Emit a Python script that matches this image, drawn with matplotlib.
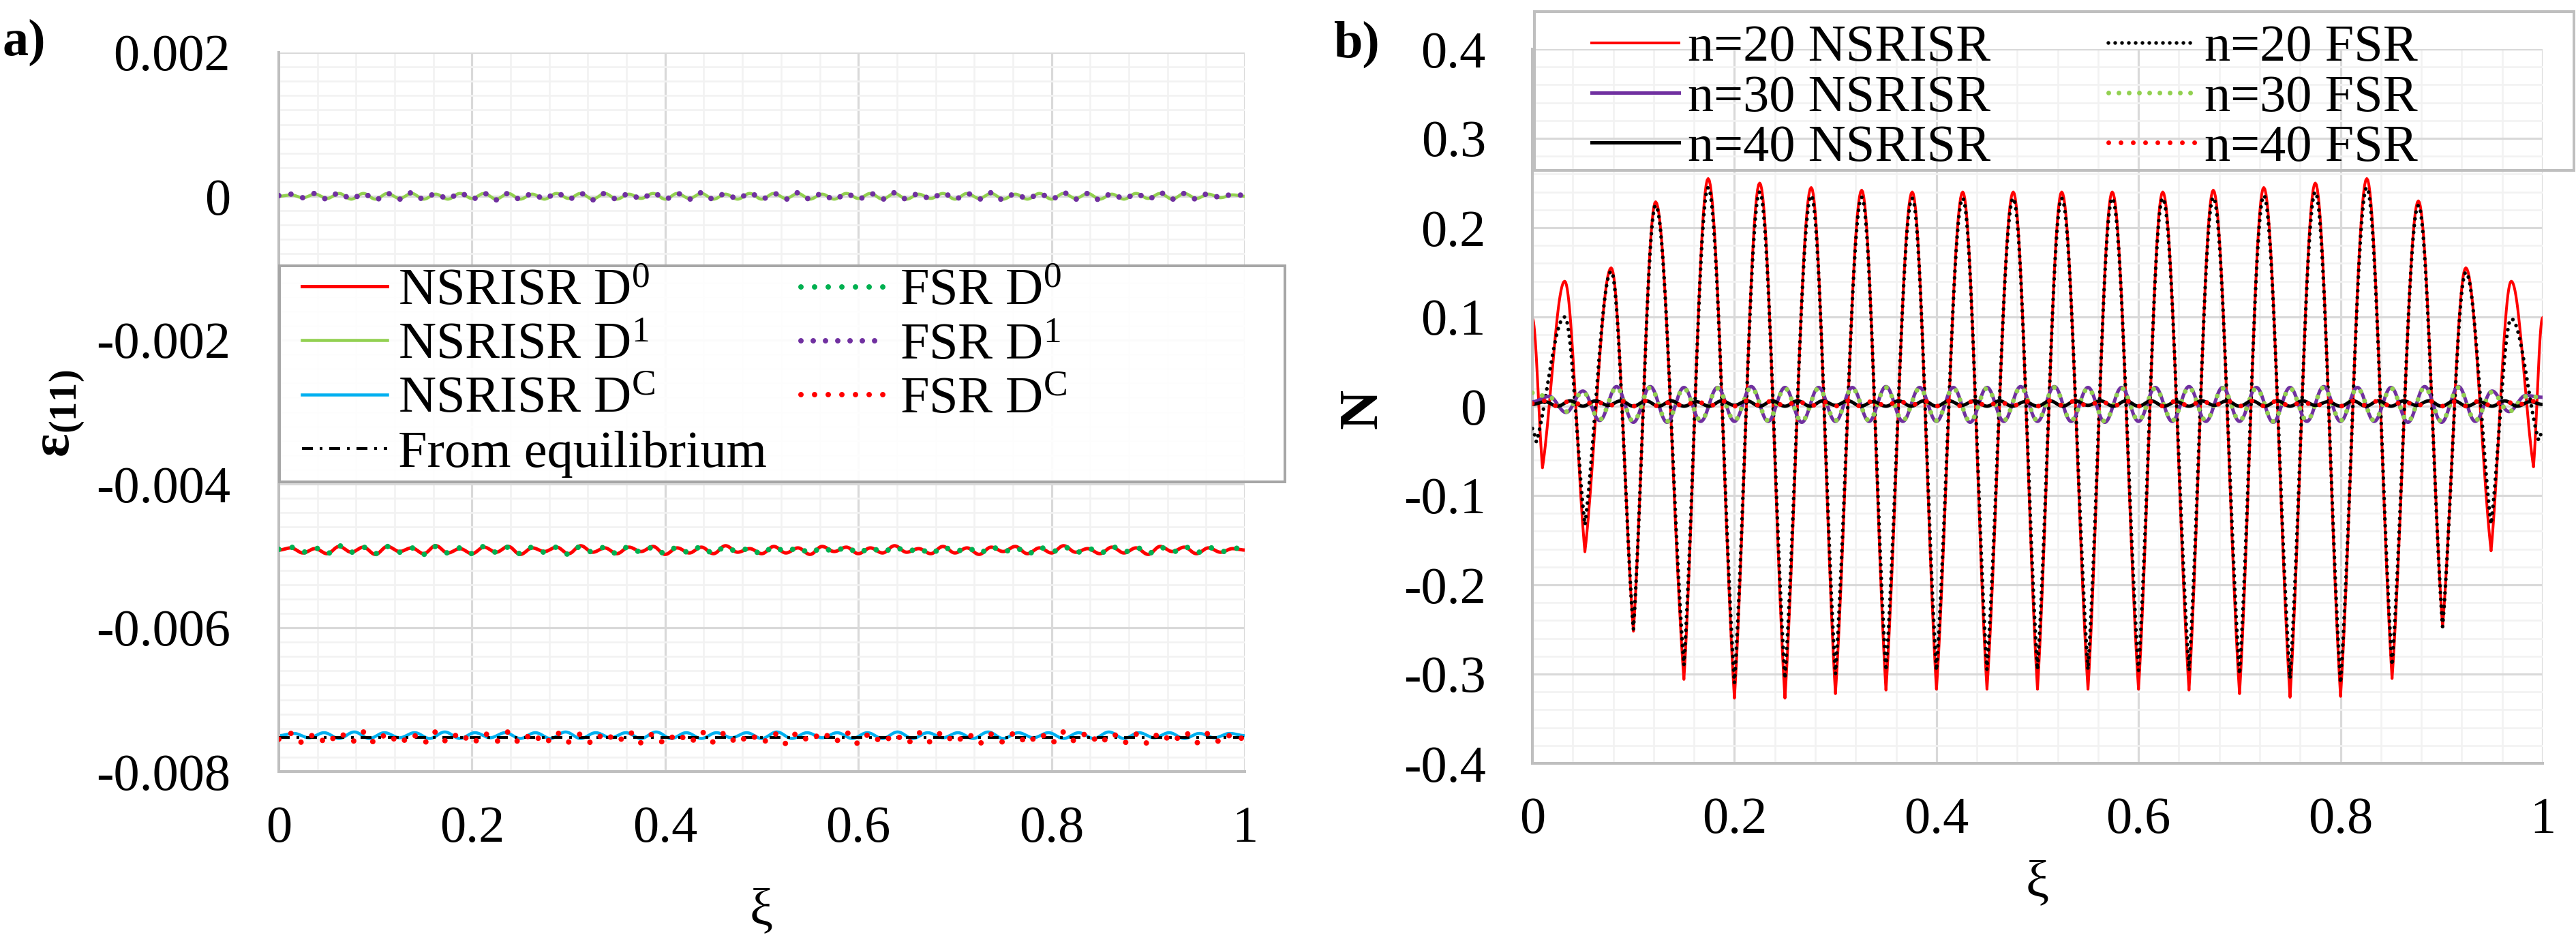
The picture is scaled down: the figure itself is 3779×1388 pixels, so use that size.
import numpy as np
import matplotlib
matplotlib.use("Agg")
import matplotlib.pyplot as plt
from matplotlib.ticker import MultipleLocator, FuncFormatter
from matplotlib.patches import Rectangle

plt.rcParams['font.family'] = ['Liberation Serif', 'DejaVu Serif']
plt.rcParams['mathtext.fontset'] = 'custom'
plt.rcParams['mathtext.rm'] = 'Liberation Serif'
plt.rcParams['mathtext.it'] = 'Liberation Serif:italic'
plt.rcParams['mathtext.bf'] = 'Liberation Serif:bold'
plt.rcParams['axes.unicode_minus'] = False

# ---------------- data: panel a) (strain, extrema, units 1e-5) ----------------
D0_LEVEL = -0.00492
D1_LEVEL = 0.0
DC_LEVEL = -0.00750
DC_FSR_LEVEL = -0.00753

D1_NSRISR_DEV = [0, 2, -2, 3, -3, 4, -4, 4, -4, 4,
                 -3, 4, -4, 3, -4, 4, -3, 4, -4, 4,
                 -4, 3, -4, 4, -3, 4, -4, 4, -4, 3,
                 -3, 4, -4, 4, -3, 4, -4, 3, -4, 4,
                 -4, 4, -3, 4, -4, 3, -4, 4, -3, 4,
                 -4, 4, -4, 3, -3, 4, -4, 4, -3, 4,
                 -4, 3, -4, 4, -4, 4, -3, 4, -4, 3,
                 -4, 4, -3, 4, -4, 4, -3, 3, -2, 2,
                 0]
D1_FSR_DEV = [1, 3, -2, 4, -4, 5, -4, 4, -5, 4,
              -4, 5, -4, 4, -4, 5, -4, 4, -5, 4,
              -4, 4, -4, 5, -4, 4, -5, 4, -4, 4,
              -4, 5, -4, 4, -4, 5, -4, 4, -4, 5,
              -4, 4, -4, 5, -4, 4, -5, 4, -4, 4,
              -4, 5, -4, 4, -4, 5, -4, 4, -4, 5,
              -5, 4, -4, 4, -4, 5, -4, 4, -5, 4,
              -4, 4, -4, 5, -4, 4, -4, 4, -2, 3,
              1]
D0_NSRISR_DEV = [0, 3, -4, 2, -5, 5, -3, 4, -6, 5,
                 -2, 3, -5, 6, -4, 2, -5, 4, -3, 5,
                 -6, 3, -2, 4, -5, 6, -3, 3, -5, 4,
                 -2, 5, -6, 3, -4, 4, -5, 6, -3, 2,
                 -5, 5, -4, 3, -6, 5, -2, 4, -5, 3,
                 -4, 6, -3, 2, -5, 5, -4, 3, -6, 4,
                 -2, 5, -5, 3, -4, 6, -3, 2, -5, 4,
                 -4, 3, -6, 5, -2, 4, -5, 3, -3, 2,
                 0]
D0_FSR_DEV = [1, 4, -3, 3, -5, 6, -3, 4, -5, 5,
              -3, 3, -6, 5, -4, 3, -5, 5, -3, 4,
              -5, 4, -3, 4, -6, 5, -3, 4, -5, 5,
              -3, 4, -5, 4, -4, 5, -5, 5, -3, 3,
              -6, 5, -3, 4, -5, 4, -3, 5, -5, 4,
              -4, 5, -3, 3, -6, 5, -3, 4, -5, 5,
              -3, 4, -6, 4, -3, 5, -4, 3, -5, 5,
              -3, 4, -5, 4, -3, 5, -4, 4, -3, 3,
              1]
DC_NSRISR_DEV = [0, 3, -3, 4, -4, 5, -4, 4, -3, 4,
                 -4, 5, -4, 4, -3, 4, -4, 4, -4, 5,
                 -4, 4, -3, 4, -4, 5, -4, 4, -4, 4,
                 -3, 4, -4, 5, -4, 4, -3, 4, -4, 4,
                 -4, 5, -4, 4, -3, 4, -4, 5, -4, 4,
                 -3, 4, -4, 4, -4, 5, -4, 4, -3, 4,
                 -4, 3, -3, 3, 0]
DC_FSR_DEV = [-2, 6, -7, 5, -8, 7, -6, 8, -7, 6,
              -8, 5, -7, 8, -6, 7, -8, 6, -5, 8,
              -7, 6, -8, 7, -6, 5, -8, 7, -6, 8,
              -7, 5, -8, 6, -7, 8, -6, 7, -8, 5,
              -7, 6, -8, 7, -5, 8, -6, 7, -8, 6,
              -7, 5, -8, 7, -6, 8, -7, 6, -8, 5,
              -6, 7, -8, 6, -7, 8, -5, 7, -8, 6,
              -7, 5, -8, 7, -6, 8, -7, 6, -6, 5,
              -2]
EQ_XI = [0.0, 0.1, 0.2, 0.3, 0.4, 0.5, 0.6, 0.7, 0.8, 0.9, 1.0]
EQ_VALUES = [-0.00753, -0.00753, -0.00753, -0.00753, -0.00753, -0.00753,
             -0.00753, -0.00753, -0.00753, -0.00753, -0.00753]

# ---------------- data: panel b) (N, extrema read off the plot) ----------------
N20_XI = [0.000, 0.010, 0.032, 0.052, 0.078, 0.100, 0.122, 0.150, 0.174, 0.200,
          0.225, 0.250, 0.276, 0.300, 0.326, 0.350, 0.376, 0.400, 0.426, 0.450,
          0.476, 0.500, 0.524, 0.550, 0.574, 0.600, 0.624, 0.650, 0.674, 0.700,
          0.724, 0.750, 0.775, 0.800, 0.826, 0.851, 0.877, 0.901, 0.924, 0.949,
          0.969, 0.991, 1.000]
N20_NSRISR = [0.098, -0.069, 0.140, -0.163, 0.155, -0.252, 0.229, -0.306, 0.255, -0.327,
              0.250, -0.327, 0.245, -0.322, 0.242, -0.318, 0.240, -0.317, 0.240, -0.317,
              0.240, -0.317, 0.240, -0.317, 0.240, -0.317, 0.240, -0.318, 0.242, -0.322,
              0.245, -0.326, 0.250, -0.325, 0.255, -0.305, 0.230, -0.247, 0.155, -0.162,
              0.140, -0.068, 0.099]
N20_FSR_XI = [0.000, 0.004, 0.032, 0.052, 0.078, 0.100, 0.122, 0.150, 0.174, 0.200,
              0.225, 0.250, 0.276, 0.300, 0.326, 0.350, 0.376, 0.400, 0.426, 0.450,
              0.476, 0.500, 0.524, 0.550, 0.574, 0.600, 0.624, 0.650, 0.674, 0.700,
              0.724, 0.750, 0.775, 0.800, 0.826, 0.851, 0.877, 0.901, 0.924, 0.949,
              0.969, 0.996, 1.000]
N20_FSR = [-0.025, -0.040, 0.100, -0.133, 0.151, -0.250, 0.225, -0.290, 0.245, -0.310,
           0.240, -0.305, 0.236, -0.300, 0.234, -0.296, 0.233, -0.296, 0.233, -0.295,
           0.233, -0.295, 0.233, -0.295, 0.233, -0.296, 0.233, -0.296, 0.234, -0.300,
           0.236, -0.305, 0.240, -0.310, 0.245, -0.290, 0.225, -0.247, 0.150, -0.132,
           0.098, -0.038, -0.028]
N30_NSRISR = [0.005, 0.011, -0.007, 0.017, -0.016, 0.022, -0.018, 0.022, -0.018, 0.021,
              -0.017, 0.021, -0.017, 0.022, -0.017, 0.021, -0.018, 0.021, -0.017, 0.021,
              -0.017, 0.022, -0.017, 0.021, -0.017, 0.021, -0.018, 0.021, -0.017, 0.022,
              -0.017, 0.022, -0.017, 0.021, -0.018, 0.021, -0.017, 0.021, -0.017, 0.022,
              -0.017, 0.021, -0.017, 0.021, -0.018, 0.021, -0.017, 0.022, -0.017, 0.021,
              -0.017, 0.021, -0.018, 0.022, -0.018, 0.022, -0.017, 0.017, -0.006, 0.012,
              0.010]
N30_FSR = [0.015, 0.010, -0.006, 0.016, -0.015, 0.021, -0.017, 0.021, -0.017, 0.020,
           -0.016, 0.020, -0.016, 0.021, -0.016, 0.020, -0.017, 0.020, -0.016, 0.020,
           -0.016, 0.021, -0.016, 0.020, -0.016, 0.020, -0.017, 0.020, -0.016, 0.021,
           -0.016, 0.021, -0.016, 0.020, -0.017, 0.020, -0.016, 0.020, -0.016, 0.021,
           -0.016, 0.020, -0.016, 0.020, -0.017, 0.020, -0.016, 0.021, -0.016, 0.020,
           -0.016, 0.020, -0.017, 0.021, -0.017, 0.021, -0.016, 0.016, -0.006, 0.011,
           0.010]
N40_NSRISR = [0.002, 0.005, 0.000, 0.006, 0.000, 0.006, 0.001, 0.006, 0.000, 0.006,
              0.000, 0.006, 0.000, 0.005, 0.000, 0.006, 0.001, 0.006, 0.000, 0.006,
              0.000, 0.006, 0.000, 0.006, 0.001, 0.006, 0.000, 0.005, 0.000, 0.006,
              0.000, 0.006, 0.000, 0.006, 0.001, 0.006, 0.000, 0.006, 0.000, 0.005,
              0.000, 0.006, 0.000, 0.006, 0.001, 0.006, 0.000, 0.006, 0.000, 0.006,
              0.000, 0.005, 0.000, 0.006, 0.001, 0.006, 0.000, 0.006, 0.000, 0.006,
              0.000, 0.006, 0.001, 0.005, 0.000, 0.006, 0.000, 0.006, 0.000, 0.006,
              0.001, 0.006, 0.000, 0.006, 0.000, 0.005, 0.000, 0.006, 0.000, 0.005,
              0.002]
N40_FSR = [0.003, 0.006, 0.000, 0.006, 0.001, 0.006, 0.000, 0.006, 0.000, 0.006,
           0.000, 0.005, 0.000, 0.006, 0.000, 0.006, 0.000, 0.006, 0.001, 0.006,
           0.000, 0.006, 0.000, 0.005, 0.000, 0.006, 0.000, 0.006, 0.000, 0.006,
           0.001, 0.006, 0.000, 0.006, 0.000, 0.006, 0.000, 0.005, 0.000, 0.006,
           0.000, 0.006, 0.001, 0.006, 0.000, 0.006, 0.000, 0.006, 0.000, 0.005,
           0.000, 0.006, 0.000, 0.006, 0.001, 0.006, 0.000, 0.006, 0.000, 0.006,
           0.000, 0.005, 0.000, 0.006, 0.000, 0.006, 0.001, 0.006, 0.000, 0.006,
           0.000, 0.006, 0.000, 0.005, 0.000, 0.006, 0.000, 0.006, 0.001, 0.006,
           0.003]

LEFT_LABELS_NSRISR = ['NSRISR D$^{\\mathrm{0}}$', 'NSRISR D$^{\\mathrm{1}}$',
                      'NSRISR D$^{\\mathrm{C}}$', 'From equilibrium']
LEFT_LABELS_FSR = ['FSR D$^{\\mathrm{0}}$', 'FSR D$^{\\mathrm{1}}$', 'FSR D$^{\\mathrm{C}}$']
RIGHT_LABELS_NSRISR = ['n=20 NSRISR', 'n=30 NSRISR', 'n=40 NSRISR']
RIGHT_LABELS_FSR = ['n=20 FSR', 'n=30 FSR', 'n=40 FSR']

W, H = 3780, 1388
PT = 0.72  # points per pixel at dpi 100
FS = 55


def wave(vals, xi=None, flat=0.0, n=24):
    # smooth path through the extrema
    vals = np.asarray(vals, float)
    if xi is None:
        xi = np.linspace(0, 1, len(vals))
    xi = np.asarray(xi, float)
    m = min(len(xi), len(vals))
    xi, vals = xi[:m], vals[:m]
    t = np.linspace(0, 1, n, endpoint=False)
    g = 0.5 * (1 - np.cos(np.pi * t))
    xs, ys = [], []
    for i in range(m - 1):
        a, b = vals[i], vals[i + 1]
        if a > b:
            f = flat * (1 - np.cos(np.pi * t / 2)) + (1 - flat) * g
        else:
            f = flat * np.sin(np.pi * t / 2) + (1 - flat) * g
        xs.append(xi[i] + (xi[i + 1] - xi[i]) * t)
        ys.append(a + (b - a) * f)
    xs.append([xi[-1]])
    ys.append([vals[-1]])
    return np.concatenate(xs), np.concatenate(ys)


def lev(level, dev):
    return level + np.asarray(dev, float) * 1e-5


def dots(lw_px, pitch_px):
    return dict(lw=lw_px * PT, linestyle=(0, (0.001, pitch_px / lw_px)),
                dash_capstyle='round')


def fmt(v, p):
    return '%g' % (round(v, 6) + 0.0)


def style(ax, ymin, ymax, ymaj, ymin_step, ypad, xpad):
    ax.set_xlim(0, 1)
    ax.set_ylim(ymin, ymax)
    ax.xaxis.set_major_locator(MultipleLocator(0.2))
    ax.xaxis.set_minor_locator(MultipleLocator(0.04))
    ax.yaxis.set_major_locator(MultipleLocator(ymaj))
    ax.yaxis.set_minor_locator(MultipleLocator(ymin_step))
    ax.xaxis.set_major_formatter(FuncFormatter(fmt))
    ax.yaxis.set_major_formatter(FuncFormatter(fmt))
    ax.grid(which='minor', color='#F2F2F2', lw=2.6 * PT)
    ax.grid(which='major', color='#D9D9D9', lw=3.2 * PT)
    ax.set_axisbelow(True)
    for s in ['top', 'right']:
        ax.spines[s].set_visible(False)
    for s in ['left', 'bottom']:
        ax.spines[s].set_color('#BFBFBF')
        ax.spines[s].set_linewidth(4 * PT)
    ax.tick_params(which='both', length=0, labelsize=FS)
    ax.tick_params(axis='y', pad=ypad)
    ax.tick_params(axis='x', pad=xpad)


fig = plt.figure(figsize=(W / 100, H / 100), dpi=100)
axL = fig.add_axes([409 / W, 1 - 1132 / H, 1417 / W, 1055 / H])
axR = fig.add_axes([2248 / W, 1 - 1120 / H, 1482 / W, 1048 / H])

# ---------------- panel a) ----------------
style(axL, -0.008, 0.002, 0.002, 0.0002, 51, 36)

x, y = wave(lev(D0_LEVEL, D0_NSRISR_DEV))
hD0, = axL.plot(x, y, color='#FF0000', lw=5 * PT, zorder=2)
x, y = wave(lev(D1_LEVEL, D1_NSRISR_DEV))
hD1, = axL.plot(x, y, color='#92D050', lw=4.5 * PT, zorder=2)
x, y = wave(lev(DC_LEVEL, DC_NSRISR_DEV))
hDC, = axL.plot(x, y, color='#00B0F0', lw=4.5 * PT, zorder=2)
hEQ, = axL.plot(EQ_XI, EQ_VALUES, color='black', lw=4 * PT,
                linestyle=(0, (4, 2.5, 1, 2.5)), zorder=3)
x, y = wave(lev(D0_LEVEL, D0_FSR_DEV))
fD0, = axL.plot(x, y, color='#00B050', zorder=3, **dots(8, 20))
x, y = wave(lev(D1_LEVEL, D1_FSR_DEV))
fD1, = axL.plot(x, y, color='#7030A0', zorder=3, **dots(8, 18))
x, y = wave(lev(DC_FSR_LEVEL, DC_FSR_DEV))
fDC, = axL.plot(x, y, color='#FF0000', zorder=4, **dots(8, 20))

# ---------------- panel b) ----------------
style(axR, -0.4, 0.4, 0.1, 0.02, 49, 35)

x, y = wave(N20_NSRISR, N20_XI, flat=0.5)
h20, = axR.plot(x, y, color='#FF0000', lw=4 * PT, zorder=2)
x, y = wave(N20_FSR, N20_FSR_XI, flat=0.5)
f20, = axR.plot(x, y, color='black', zorder=3, **dots(5.5, 10))
x, y = wave(N30_NSRISR)
h30, = axR.plot(x, y, color='#7030A0', lw=5 * PT, zorder=4)
x, y = wave(N30_FSR)
f30, = axR.plot(x, y, color='#92D050', zorder=5, **dots(7, 15))
x, y = wave(N40_NSRISR)
h40, = axR.plot(x, y, color='black', lw=5 * PT, zorder=6)
x, y = wave(N40_FSR)
f40, = axR.plot(x, y, color='#FF0000', zorder=7, **dots(7, 18))

# ---------------- legends ----------------
fig.patches.append(Rectangle((410 / W, 1 - 707 / H), 1475 / W, 317 / H,
                             transform=fig.transFigure, facecolor=(1, 1, 1, 0.92),
                             edgecolor='#A6A6A6', lw=4 * PT, zorder=1))
fig.patches.append(Rectangle((2251 / W, 1 - 250 / H), 1525 / W, 233 / H,
                             transform=fig.transFigure, facecolor='none',
                             edgecolor='#BFBFBF', lw=4 * PT, zorder=1))


def column(handles, labels, px, py, hl, pad, sp):
    fig.legend(handles, labels, ncol=1, loc='center left',
               bbox_to_anchor=(px / W, 1 - py / H), bbox_transform=fig.transFigure,
               frameon=False, fontsize=FS, handlelength=hl, handletextpad=pad,
               labelspacing=sp, borderpad=0, borderaxespad=0)


column([hD0, hD1, hDC, hEQ], LEFT_LABELS_NSRISR, 443, 547, 1.64, 0.2, 0.13)
column([fD0, fD1, fDC], LEFT_LABELS_FSR, 1175, 508, 1.6, 0.3, 0.13)
column([h20, h30, h40], RIGHT_LABELS_NSRISR, 2335, 144, 1.68, 0.16, 0.05)
column([f20, f30, f40], RIGHT_LABELS_FSR, 3093, 144, 1.68, 0.16, 0.05)

# ---------------- labels ----------------
def ftext(px, py, s, **kw):
    fig.text(px / W, 1 - py / H, s, ha='center', va='center', **kw)


ftext(35, 62, 'a)', fontsize=FS, fontweight='bold')
ftext(1990, 65, 'b)', fontsize=FS, fontweight='bold')
ftext(90, 607, 'ε$_{\\mathbf{(11)}}$', fontsize=58, fontweight='bold', rotation=90)
ftext(2000, 600, 'N', fontsize=58, fontweight='bold', rotation=90)
ftext(1117, 1338, 'ξ', fontsize=FS)
ftext(2989, 1297, 'ξ', fontsize=FS)

fig.savefig('out.png', dpi=100)
